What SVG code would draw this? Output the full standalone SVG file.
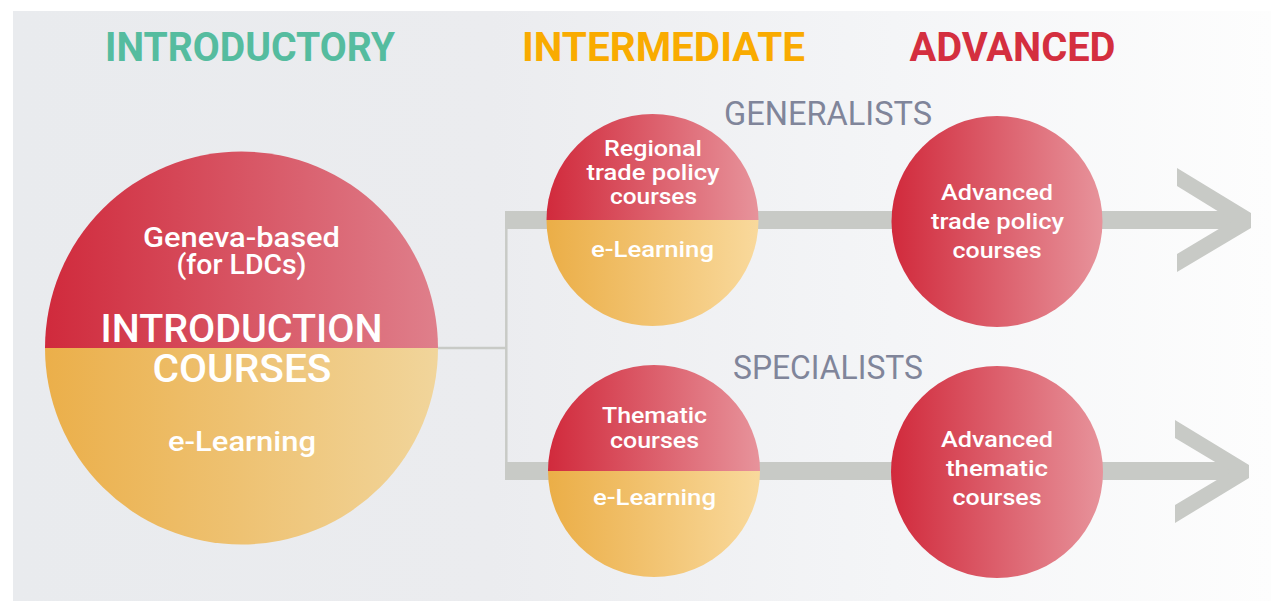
<svg xmlns="http://www.w3.org/2000/svg" width="1271" height="601" viewBox="0 0 1271 601">
<defs>
<linearGradient id="bg" x1="0" y1="0" x2="1" y2="0">
<stop offset="0" stop-color="#e9ebee"/>
<stop offset="0.38" stop-color="#ebecef"/>
<stop offset="0.7" stop-color="#f4f5f7"/>
<stop offset="1" stop-color="#fdfdfd"/>
</linearGradient>
<linearGradient id="redBig" x1="0" y1="0" x2="1" y2="0">
<stop offset="0" stop-color="#d02a3c"/>
<stop offset="1" stop-color="#df7f8b"/>
</linearGradient>
<linearGradient id="yelBig" x1="0" y1="0" x2="1" y2="0">
<stop offset="0" stop-color="#ebaf4a"/>
<stop offset="1" stop-color="#f1d59b"/>
</linearGradient>
<linearGradient id="red" x1="0" y1="0" x2="1" y2="0">
<stop offset="0" stop-color="#d12a3c"/>
<stop offset="1" stop-color="#e7939b"/>
</linearGradient>
<linearGradient id="yel" x1="0" y1="0" x2="1" y2="0">
<stop offset="0" stop-color="#ebae47"/>
<stop offset="1" stop-color="#f9d99c"/>
</linearGradient>
</defs>
<style>
.title{font-family:Roboto,"Liberation Sans",sans-serif;font-weight:700;font-size:41px;text-anchor:middle}
.sub{font-family:Roboto,"Liberation Sans",sans-serif;font-weight:400;font-size:33px;fill:#80859a;text-anchor:middle}
.lbl{font-family:Roboto,"Liberation Sans",sans-serif;font-weight:500;fill:#ffffff;text-anchor:middle}
.s22{font-size:22px}
.s28{font-size:28px}
.s39{font-size:39px}
.bar{fill:#c8cac6}
.thin{stroke:#c8cac6;stroke-width:2.5;fill:none}
</style>
<rect x="13" y="11" width="1258" height="590" fill="url(#bg)"/>
<g id="titles">
<text class="title" x="250" y="61" fill="#55bc9f" textLength="290" lengthAdjust="spacingAndGlyphs">INTRODUCTORY</text>
<text class="title" x="663.5" y="61" fill="#f9ab00" textLength="283" lengthAdjust="spacingAndGlyphs">INTERMEDIATE</text>
<text class="title" x="1012.5" y="61" fill="#d42f3f" textLength="206" lengthAdjust="spacingAndGlyphs">ADVANCED</text>
<text class="sub" x="828" y="125" textLength="208" lengthAdjust="spacingAndGlyphs">GENERALISTS</text>
<text class="sub" x="828" y="379" textLength="190" lengthAdjust="spacingAndGlyphs">SPECIALISTS</text>
</g>
<g id="connectors">
<path class="thin" d="M438 348 H506.5 M506.3 211 V480"/>
<rect class="bar" x="505" y="211" width="738" height="18"/>
<rect class="bar" x="505" y="462" width="736" height="18"/>
<polygon class="bar" points="1177,168 1251,213 1251,228 1177,272 1177,254 1233,220.5 1177,186"/>
<polygon class="bar" points="1175,420 1249,465 1249,478 1175,523 1175,505 1231,471.5 1175,438"/>
</g>
<g id="introduction">
<path d="M45 348 A196.5 196.5 0 0 1 438 348 Z" fill="url(#redBig)"/>
<path d="M45 348 A196.5 196.5 0 0 0 438 348 Z" fill="url(#yelBig)"/>
<text class="lbl s28" x="241.5" y="247" textLength="197" lengthAdjust="spacingAndGlyphs">Geneva-based</text>
<text class="lbl s28" x="241.5" y="274" textLength="130" lengthAdjust="spacingAndGlyphs">(for LDCs)</text>
<text class="lbl s39" x="241.5" y="342" textLength="282" lengthAdjust="spacingAndGlyphs">INTRODUCTION</text>
<text class="lbl s39" x="242" y="382" textLength="179" lengthAdjust="spacingAndGlyphs">COURSES</text>
<text class="lbl s28" x="242" y="451" textLength="148" lengthAdjust="spacingAndGlyphs">e-Learning</text>
</g>
<g id="regional">
<path d="M546.5 220 A106 106 0 0 1 758.5 220 Z" fill="url(#red)"/>
<path d="M546.5 220 A106 106 0 0 0 758.5 220 Z" fill="url(#yel)"/>
<text class="lbl s22" x="653" y="155.5" textLength="98" lengthAdjust="spacingAndGlyphs">Regional</text>
<text class="lbl s22" x="653" y="180" textLength="133" lengthAdjust="spacingAndGlyphs">trade policy</text>
<text class="lbl s22" x="653.5" y="204" textLength="87" lengthAdjust="spacingAndGlyphs">courses</text>
<text class="lbl s22" x="652.5" y="257" textLength="123" lengthAdjust="spacingAndGlyphs">e-Learning</text>
</g>
<g id="thematic">
<path d="M548 471 A106 106 0 0 1 760 471 Z" fill="url(#red)"/>
<path d="M548 471 A106 106 0 0 0 760 471 Z" fill="url(#yel)"/>
<text class="lbl s22" x="654.5" y="423" textLength="105" lengthAdjust="spacingAndGlyphs">Thematic</text>
<text class="lbl s22" x="654.5" y="447.5" textLength="89" lengthAdjust="spacingAndGlyphs">courses</text>
<text class="lbl s22" x="654.5" y="505" textLength="123" lengthAdjust="spacingAndGlyphs">e-Learning</text>
</g>
<g id="advanced-trade">
<circle cx="997" cy="221.5" r="105.5" fill="url(#red)"/>
<text class="lbl s22" x="997" y="200" textLength="112" lengthAdjust="spacingAndGlyphs">Advanced</text>
<text class="lbl s22" x="997.5" y="229" textLength="133" lengthAdjust="spacingAndGlyphs">trade policy</text>
<text class="lbl s22" x="997" y="258" textLength="89" lengthAdjust="spacingAndGlyphs">courses</text>
</g>
<g id="advanced-thematic">
<circle cx="997" cy="472" r="106" fill="url(#red)"/>
<text class="lbl s22" x="997" y="447" textLength="112" lengthAdjust="spacingAndGlyphs">Advanced</text>
<text class="lbl s22" x="997" y="476" textLength="102" lengthAdjust="spacingAndGlyphs">thematic</text>
<text class="lbl s22" x="997" y="505" textLength="89" lengthAdjust="spacingAndGlyphs">courses</text>
</g>
</svg>
